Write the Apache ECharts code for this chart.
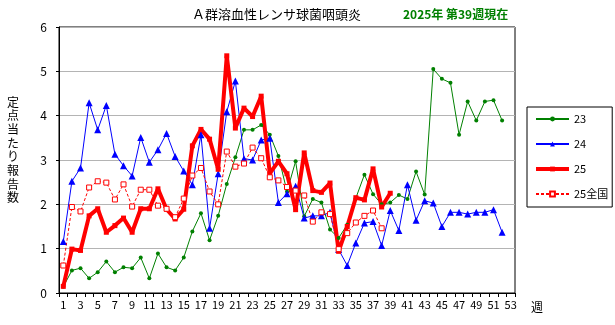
<!DOCTYPE html>
<html><head><meta charset="utf-8">
<script src="https://cdn.jsdelivr.net/npm/echarts@6/dist/echarts.min.js"></script>
<style>html,body{margin:0;padding:0;background:#fff}#c{width:615px;height:325px}</style>
</head><body><div id="c"></div>
<script>
var weeks = [];
for (var i = 1; i <= 53; i++) weeks.push(String(i));
var y23 = [0.14,0.51,0.56,0.33,0.47,0.71,0.47,0.58,0.56,0.80,0.33,0.89,0.58,0.51,0.80,1.39,1.80,1.19,1.74,2.46,3.06,3.68,3.68,3.79,3.57,3.09,2.29,2.97,1.73,2.12,2.04,1.43,1.24,1.54,2.14,2.67,2.23,2.00,2.04,2.21,2.12,2.74,2.22,5.05,4.83,4.74,3.57,4.32,3.89,4.32,4.35,3.89,null];
var y24 = [1.16,2.52,2.82,4.29,3.68,4.23,3.13,2.87,2.64,3.51,2.95,3.23,3.60,3.08,2.75,2.44,3.57,1.46,2.69,4.09,4.78,3.03,3.00,3.45,3.49,2.04,2.24,2.41,1.69,1.74,1.74,1.82,0.98,0.62,1.13,1.58,1.61,1.07,1.86,1.41,2.44,1.64,2.08,2.03,1.50,1.82,1.82,1.78,1.82,1.82,1.88,1.37,null];
var y25 = [0.15,0.99,0.96,1.74,1.90,1.37,1.52,1.69,1.37,1.90,1.90,2.35,1.89,1.67,1.89,3.32,3.69,3.47,2.79,5.35,3.72,4.17,3.98,4.44,2.70,2.97,2.69,1.88,3.16,2.31,2.27,2.48,0.94,1.50,2.15,2.10,2.80,1.94,2.25];
var y25n = [0.62,1.94,1.84,2.38,2.52,2.49,2.11,2.45,1.95,2.33,2.33,1.97,1.90,1.71,2.13,2.65,2.82,2.29,2.00,3.19,2.85,2.92,3.28,3.04,2.61,2.54,2.39,2.31,2.20,1.61,1.82,1.78,0.99,1.35,1.59,1.74,1.86,1.46];
var seriesNames = ['23','24','25','25全国'];
var yTicks = ['0','1','2','3','4','5','6'];
var yTitle = '定点当たり報告数';
var FONT = '"Noto Sans CJK JP", sans-serif';

var graphics = [
  {type: 'text', left: 192, top: 8, style: {text: 'Ａ群溶血性レンサ球菌咽頭炎', fill: '#000', font: '13px "Noto Sans CJK JP"'}},
  {type: 'text', left: 403, top: 8, style: {text: '2025年 第39週現在', fill: '#008000', font: 'bold 12px "Noto Sans CJK JP"'}},
  {type: 'text', left: 531, top: 301, style: {text: '週', fill: '#000', font: '12px "Noto Sans CJK JP"'}}
];
for (var k = 0; k < yTitle.length; k++) {
  graphics.push({type: 'text', x: 13, y: 102 + k * 13.7,
    style: {text: yTitle.charAt(k), fill: '#000', font: '12px "Noto Sans CJK JP"', align: 'center', verticalAlign: 'middle'}});
}

var legendData = [
  {name: seriesNames[0]},
  {name: seriesNames[1]},
  {name: seriesNames[2], lineStyle: {width: 4}},
  {name: seriesNames[3]}
];

var chart = echarts.init(document.getElementById('c'), null, {renderer:'canvas'});
chart.setOption({
  animation: false,
  textStyle: {fontFamily: FONT},
  grid: {left: 59, right: 100, top: 27, bottom: 32, show: true, borderColor: '#000', borderWidth: 1},
  xAxis: {
    type: 'category', data: weeks, boundaryGap: true,
    axisLine: {lineStyle: {color: '#000', width: 1}},
    axisTick: {show: true, interval: 0, length: 4, lineStyle: {color: '#000'}},
    axisLabel: {interval: 1, color: '#000', fontSize: 11, fontFamily: FONT, margin: 6}
  },
  yAxis: {
    type: 'value', min: 0, max: 6, interval: 1,
    axisLine: {show: true, lineStyle: {color: '#000'}},
    axisTick: {show: true, length: 3, lineStyle: {color: '#000'}},
    axisLabel: {color: '#000', fontSize: 12, fontFamily: FONT, margin: 12,
      formatter: function(v){ return yTicks[v]; }},
    splitLine: {show: true, lineStyle: {color: '#b4b4b4', width: 1}}
  },
  legend: {
    orient: 'vertical', left: 527, top: 107,
    padding: [6, 4, 7, 7], itemGap: 13, itemWidth: 33, itemHeight: 6,
    borderColor: '#000', borderWidth: 1, backgroundColor: '#fff',
    textStyle: {color: '#000', fontSize: 11, fontFamily: FONT, lineHeight: 12},
    data: legendData
  },
  graphic: graphics,
  series: [
    {name: '23', type: 'line', data: y23, symbol: 'circle', symbolSize: 4, showAllSymbol: true,
      lineStyle: {color: '#008000', width: 1}, itemStyle: {color: '#008000'}},
    {name: '24', type: 'line', data: y24, symbol: 'triangle', symbolSize: 7, showAllSymbol: true,
      lineStyle: {color: '#0000ff', width: 1}, itemStyle: {color: '#0000ff'}},
    {name: '25', type: 'line', data: y25, symbol: 'rect', symbolSize: 5, showAllSymbol: true,
      lineStyle: {color: '#ff0000', width: 4}, itemStyle: {color: '#ff0000'}},
    {name: '25全国', type: 'line', data: y25n, symbol: 'rect', symbolSize: 5, showAllSymbol: true,
      lineStyle: {color: '#ff0000', width: 1, type: [3, 2]},
      itemStyle: {color: '#fff', borderColor: '#ff0000', borderWidth: 1}}
  ]
});
</script></body></html>
